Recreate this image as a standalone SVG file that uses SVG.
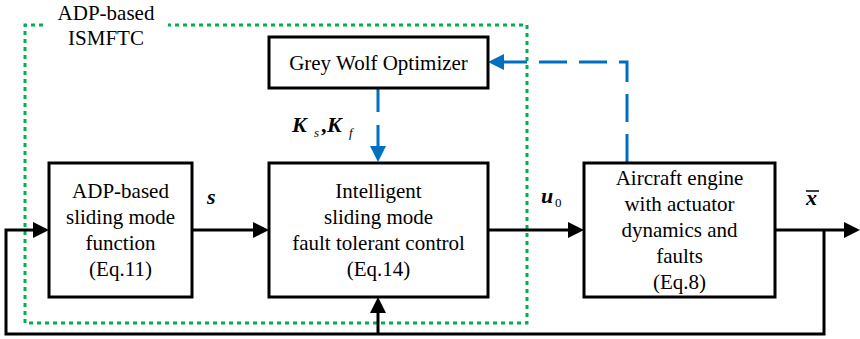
<svg xmlns="http://www.w3.org/2000/svg" width="860" height="339" viewBox="0 0 860 339">
<defs>
<marker id="ak" markerWidth="16" markerHeight="16" refX="8" refY="8" orient="auto" markerUnits="userSpaceOnUse"><path d="M0,0 L16,8 L0,16 Z" fill="#000"/></marker>
<marker id="ab" markerWidth="16" markerHeight="16" refX="8" refY="8" orient="auto" markerUnits="userSpaceOnUse"><path d="M0,0 L16,8 L0,16 Z" fill="#0070C0"/></marker>
</defs>
<rect width="860" height="339" fill="#fff"/>
<g id="frame">
<path d="M43,25 H25 V323 H527 V25 H168" fill="none" stroke="#00B050" stroke-width="3" stroke-dasharray="4 4"/>
<text x="106" y="20" font-family="Times New Roman, Liberation Serif, serif" font-size="21" text-anchor="middle">ADP-based</text>
<text x="106" y="45" font-family="Times New Roman, Liberation Serif, serif" font-size="21" text-anchor="middle">ISMFTC</text>
</g>
<g id="connectors" fill="none" stroke="#000" stroke-width="3">
<path d="M192,230 H261" marker-end="url(#ak)"/>
<path d="M488,230 H576" marker-end="url(#ak)"/>
<path d="M775,230 H852" marker-end="url(#ak)"/>
<path d="M824,230 V334 H6 V230 H41" marker-end="url(#ak)"/>
<path d="M378,334 V305" marker-end="url(#ak)"/>
<path d="M378,88 V154" stroke="#0070C0" stroke-dasharray="24 13" marker-end="url(#ab)"/>
<path d="M627,162 V62 H496" stroke="#0070C0" stroke-dasharray="28 12" marker-end="url(#ab)"/>
</g>
<g id="gwo">
<rect x="269" y="37" width="219" height="51" fill="#fff" stroke="#000" stroke-width="3"/>
<text x="378.5" y="70" font-family="Times New Roman, Liberation Serif, serif" font-size="21" text-anchor="middle">Grey Wolf Optimizer</text>
</g>
<g id="adp">
<rect x="49" y="163" width="143" height="134" fill="#fff" stroke="#000" stroke-width="3"/>
<text x="120.5" y="198" font-family="Times New Roman, Liberation Serif, serif" font-size="21" text-anchor="middle">ADP-based</text>
<text x="120.5" y="224" font-family="Times New Roman, Liberation Serif, serif" font-size="21" text-anchor="middle">sliding mode</text>
<text x="120.5" y="250" font-family="Times New Roman, Liberation Serif, serif" font-size="21" text-anchor="middle">function</text>
<text x="120.5" y="276" font-family="Times New Roman, Liberation Serif, serif" font-size="21" text-anchor="middle">(Eq.11)</text>
</g>
<g id="ismftc">
<rect x="269" y="163" width="219" height="134" fill="#fff" stroke="#000" stroke-width="3"/>
<text x="378.5" y="198" font-family="Times New Roman, Liberation Serif, serif" font-size="21" text-anchor="middle">Intelligent</text>
<text x="378.5" y="224" font-family="Times New Roman, Liberation Serif, serif" font-size="21" text-anchor="middle">sliding mode</text>
<text x="378.5" y="250" font-family="Times New Roman, Liberation Serif, serif" font-size="21" text-anchor="middle">fault tolerant control</text>
<text x="378.5" y="276" font-family="Times New Roman, Liberation Serif, serif" font-size="21" text-anchor="middle">(Eq.14)</text>
</g>
<g id="engine">
<rect x="584" y="163" width="191" height="134" fill="#fff" stroke="#000" stroke-width="3"/>
<text x="679.5" y="185" font-family="Times New Roman, Liberation Serif, serif" font-size="21" text-anchor="middle">Aircraft engine</text>
<text x="679.5" y="211" font-family="Times New Roman, Liberation Serif, serif" font-size="21" text-anchor="middle">with actuator</text>
<text x="679.5" y="237" font-family="Times New Roman, Liberation Serif, serif" font-size="21" text-anchor="middle">dynamics and</text>
<text x="679.5" y="263" font-family="Times New Roman, Liberation Serif, serif" font-size="21" text-anchor="middle">faults</text>
<text x="679.5" y="289" font-family="Times New Roman, Liberation Serif, serif" font-size="21" text-anchor="middle">(Eq.8)</text>
</g>
<g id="labels">
<text x="207" y="204" font-family="Times New Roman, Liberation Serif, serif" font-size="22" font-weight="bold" font-style="italic">s</text>
<text x="541" y="203" font-family="Times New Roman, Liberation Serif, serif" font-size="22" font-weight="bold" font-style="italic">u</text>
<text x="555" y="207" font-family="Times New Roman, Liberation Serif, serif" font-size="13">0</text>
<text x="806" y="205" font-family="Times New Roman, Liberation Serif, serif" font-size="22" font-weight="bold" font-style="italic">x</text>
<path d="M806,191 H819" stroke="#000" stroke-width="1.5"/>
<text x="292" y="132" font-family="Times New Roman, Liberation Serif, serif" font-size="22" font-weight="bold" font-style="italic">K</text>
<text x="314" y="137" font-family="Times New Roman, Liberation Serif, serif" font-size="13" font-style="italic">s</text>
<text x="321" y="132" font-family="Times New Roman, Liberation Serif, serif" font-size="22" font-weight="bold">,</text>
<text x="327" y="132" font-family="Times New Roman, Liberation Serif, serif" font-size="22" font-weight="bold" font-style="italic">K</text>
<text x="349" y="137" font-family="Times New Roman, Liberation Serif, serif" font-size="13" font-style="italic">f</text>
</g>
</svg>
